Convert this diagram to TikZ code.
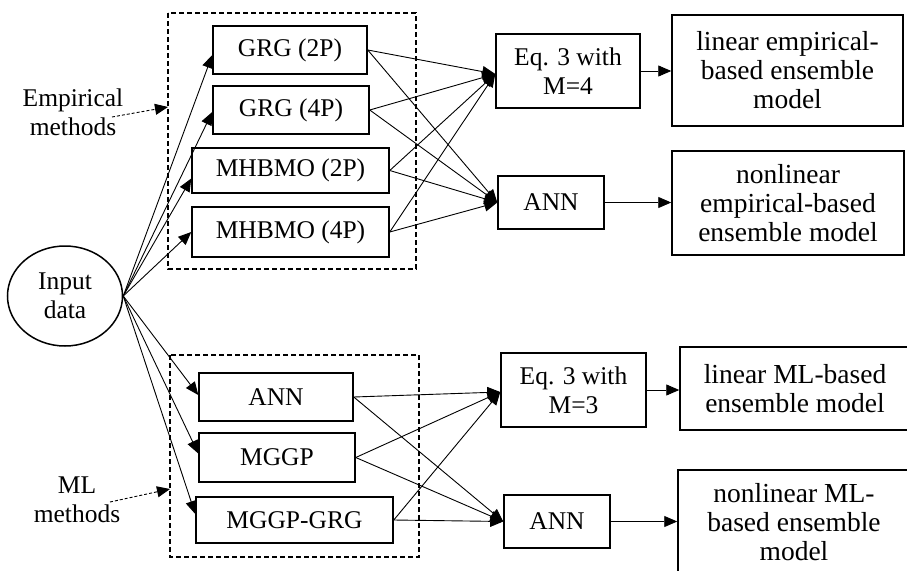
\documentclass[tikz,border=0pt]{standalone}
\usepackage{fontspec}
\setmainfont{Liberation Serif}
\usetikzlibrary{shapes.geometric,arrows.meta,calc}
\begin{document}
\begin{tikzpicture}[x=1pt,y=-1pt,
  every node/.style={font=\fontsize{25.5}{29}\selectfont, align=center, inner sep=0pt},
  bx/.style={draw, line width=1.5pt, rectangle, anchor=center},
  big/.style={font=\fontsize{27.5}{29}\selectfont},
  grp/.style={draw, line width=1.8pt, dash pattern=on 5pt off 3pt},
  arr/.style={line width=0.9pt, -{Triangle[length=13pt,width=11pt]}},
  link/.style={line width=0.9pt, -{Triangle[length=13pt,width=11pt]}},
  note/.style={line width=0.9pt, dash pattern=on 3pt off 2pt, -{Triangle[length=13pt,width=11pt]}}]
\useasboundingbox (0,0) rectangle (907,570);
\clip (0,0) rectangle (907,570);
\fill[white] (0,0) rectangle (907,570);

% dashed group boxes
\draw[grp] (168,13) rectangle (416,269);
\draw[grp] (170,355) rectangle (419,557);
\coordinate (g1w) at (168,107);
\coordinate (g2w) at (170,489);

% input
\node[draw, ellipse, line width=1.5pt, minimum width=115pt, minimum height=100pt] (in) at (65,296) {Input\\data};

% empirical group
\node[bx, minimum width=154pt, minimum height=48pt] (grg2) at (290,50) {GRG (2P)};
\node[bx, minimum width=156pt, minimum height=48pt] (grg4) at (291,110) {GRG (4P)};
\node[bx, minimum width=197pt, minimum height=45pt] (mh2) at (290.5,170.5) {MHBMO (2P)};
\node[bx, minimum width=197pt, minimum height=50pt] (mh4) at (290.5,232) {MHBMO (4P)};

% ML group
\node[bx, minimum width=154pt, minimum height=48pt] (ann2) at (276,397) {ANN};
\node[bx, minimum width=156pt, minimum height=49pt] (mggp) at (277,457.5) {MGGP};
\node[bx, minimum width=197pt, minimum height=46pt] (mgr) at (294.5,520) {MGGP-GRG};

% ensemble nodes
\node[bx, minimum width=144pt, minimum height=74pt] (eq4) at (568,71) {Eq. 3 with\\M=4};
\node[bx, minimum width=106pt, minimum height=53pt] (ann1) at (551,202.5) {ANN};
\node[bx, minimum width=145pt, minimum height=74pt] (eq3) at (573.5,390) {Eq. 3 with\\M=3};
\node[bx, minimum width=106pt, minimum height=53pt] (ann3) at (557,521.5) {ANN};

% outputs
\node[bx, big, minimum width=231pt, minimum height=111pt] (lin1) at (787.5,70.5) {linear empirical-\\based ensemble\\model};
\node[bx, big, minimum width=232pt, minimum height=104pt] (nlin1) at (788,203) {nonlinear\\empirical-based\\ensemble model};
\node[bx, big, minimum width=230pt, minimum height=83pt] (lin2) at (795,388.5) {linear ML-based\\ensemble model};
\node[bx, big, minimum width=232pt, minimum height=104pt] (nlin2) at (794,522) {nonlinear ML-\\based ensemble\\model};

% labels
\node (emp) at (73,112) {Empirical\\methods};
\node (mll) at (77,500) {ML\\methods};
\coordinate (empa) at (112,117);
\coordinate (mlla) at (110,502);
\draw[note] (empa) -- (g1w);
\draw[note] (mlla) -- (g2w);

% input arrows
\draw[arr] (in.east) -- ($(grg2.west)+(0,5)$);
\draw[arr] (in.east) -- ($(grg4.west)+(0,2)$);
\draw[arr] (in.east) -- ($(mh2.west)+(0,8)$);
\draw[arr] (in.east) -- (mh4.west);
\draw[arr] (in.east) -- ($(ann2.west)+(0,-2)$);
\draw[arr] (in.east) -- ($(mggp.west)+(0,-4)$);
\draw[arr] (in.east) -- ($(mgr.west)+(0,-6)$);

% empirical to ensembles
\foreach \s in {grg2,grg4,mh2,mh4}{
  \draw[link] (\s.east) -- ($(eq4.west)+(0,3)$);
  \draw[link] (\s.east) -- (ann1.west);
}
% ML to ensembles
\foreach \s in {ann2,mggp,mgr}{
  \draw[link] (\s.east) -- ($(eq3.west)+(0,2)$);
  \draw[link] (\s.east) -- (ann3.west);
}

% to outputs
\draw[arr] (eq4.east) -- (lin1.west |- eq4.east);
\draw[arr] (ann1.east) -- (nlin1.west |- ann1.east);
\draw[arr] (eq3.east) -- (lin2.west |- eq3.east);
\draw[arr] (ann3.east) -- (nlin2.west |- ann3.east);
\end{tikzpicture}
\end{document}
